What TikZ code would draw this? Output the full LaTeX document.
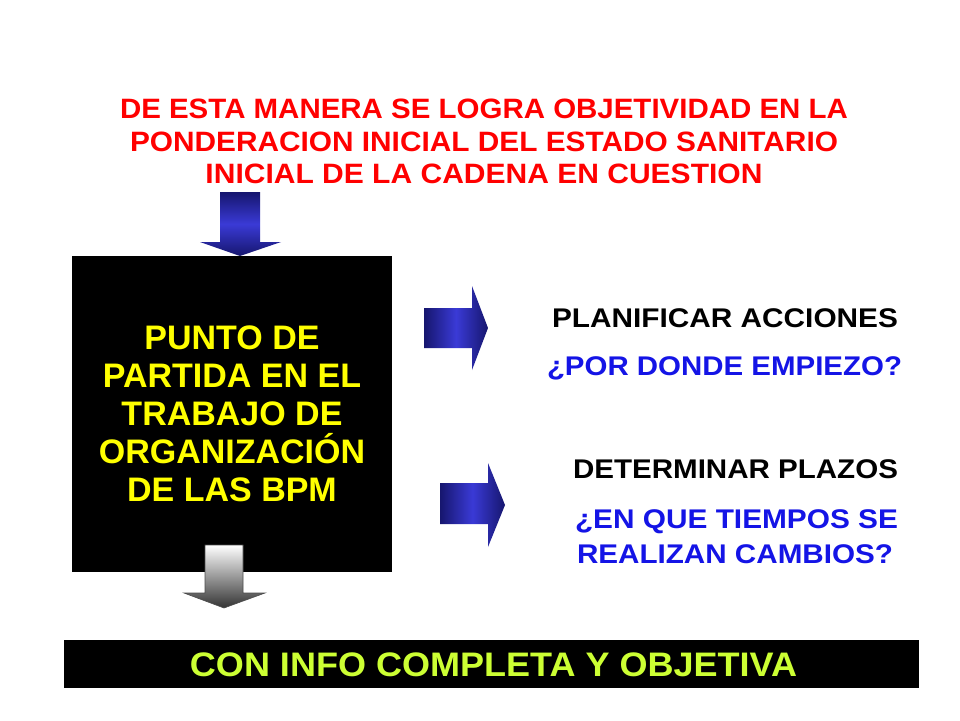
\documentclass[tikz,border=0pt]{standalone}
\usepackage{fontspec}
\setmainfont{Liberation Sans}
\usepackage{graphicx}
\definecolor{titlered}{HTML}{FF0000}
\definecolor{boxyellow}{HTML}{FFFF00}
\definecolor{limetext}{HTML}{CCFF33}
\definecolor{qblue}{HTML}{1414E6}
\definecolor{arrdark}{HTML}{16166E}
\definecolor{arrlight}{HTML}{3A3AD6}
\newcommand{\fitw}[3]{\resizebox{#1pt}{\height}{\fontsize{#2}{#2}\selectfont\bfseries #3}}
\tikzset{
  txt/.style={inner sep=0pt, outer sep=0pt, anchor=base},
  blockfill/.style={fill=black, draw=none},
}
\begin{document}
\begin{tikzpicture}[x=1pt, y=-1pt]
\useasboundingbox[fill=white] (0,0) rectangle (960,720);

% title
\node[txt, text=titlered] (t1) at (484,118) {\fitw{728}{28}{DE ESTA MANERA SE LOGRA OBJETIVIDAD EN LA}};
\node[txt, text=titlered] (t2) at (484,151) {\fitw{708}{28}{PONDERACION INICIAL DEL ESTADO SANITARIO}};
\node[txt, text=titlered] (t3) at (484,183) {\fitw{557}{28}{INICIAL DE LA CADENA EN CUESTION}};

% top blue arrow
\shade[top color=arrdark, bottom color=arrdark, middle color=arrlight]
  (220,192) -- (260,192) -- (260,242) -- (281,242) -- (240,256) -- (200,242) -- (220,242) -- cycle;

% black box
\path[blockfill] (72,256) rectangle (392,572);
\node[txt, text=boxyellow] (b1) at (232,349) {\fontsize{34}{34}\selectfont\bfseries PUNTO DE};
\node[txt, text=boxyellow] (b2) at (232,387) {\fontsize{34}{34}\selectfont\bfseries PARTIDA EN EL};
\node[txt, text=boxyellow] (b3) at (232,425) {\fontsize{34}{34}\selectfont\bfseries TRABAJO DE};
\node[txt, text=boxyellow] (b4) at (232,463) {\fontsize{34}{34}\selectfont\bfseries ORGANIZACIÓN};
\node[txt, text=boxyellow] (b5) at (232,501) {\fontsize{34}{34}\selectfont\bfseries DE LAS BPM};

% right arrows
\shade[left color=arrdark, right color=arrdark, middle color=arrlight]
  (424,308) -- (472,308) -- (472,286) -- (488,328) -- (472,370) -- (472,348) -- (424,348) -- cycle;
\shade[left color=arrdark, right color=arrdark, middle color=arrlight]
  (440,483) -- (488,483) -- (488,463) -- (505,505) -- (488,547) -- (488,524) -- (440,524) -- cycle;

% right texts
\node[txt, text=black] (r1) at (725,327) {\fitw{346}{27}{PLANIFICAR ACCIONES}};
\node[txt, text=qblue] (r2) at (724.5,375) {\fitw{355}{27}{¿POR DONDE EMPIEZO?}};
\node[txt, text=black] (r3) at (735.5,478) {\fitw{325}{27}{DETERMINAR PLAZOS}};
\node[txt, text=qblue] (r4) at (736.5,528) {\fitw{323}{27}{¿EN QUE TIEMPOS SE}};
\node[txt, text=qblue] (r5) at (735,563) {\fitw{316}{27}{REALIZAN CAMBIOS?}};

% bottom grey arrow
\shade[top color=white, bottom color=black!80, draw=black!70, line width=0.6pt]
  (205,545) -- (243,545) -- (243,593) -- (265,593) -- (224,608) -- (184,593) -- (205,593) -- cycle;

% bottom bar
\path[blockfill] (64,640) rectangle (919,688);
\node[txt, text=limetext] (bb) at (493.5,676) {\fitw{607}{34}{CON INFO COMPLETA Y OBJETIVA}};
\end{tikzpicture}
\end{document}
